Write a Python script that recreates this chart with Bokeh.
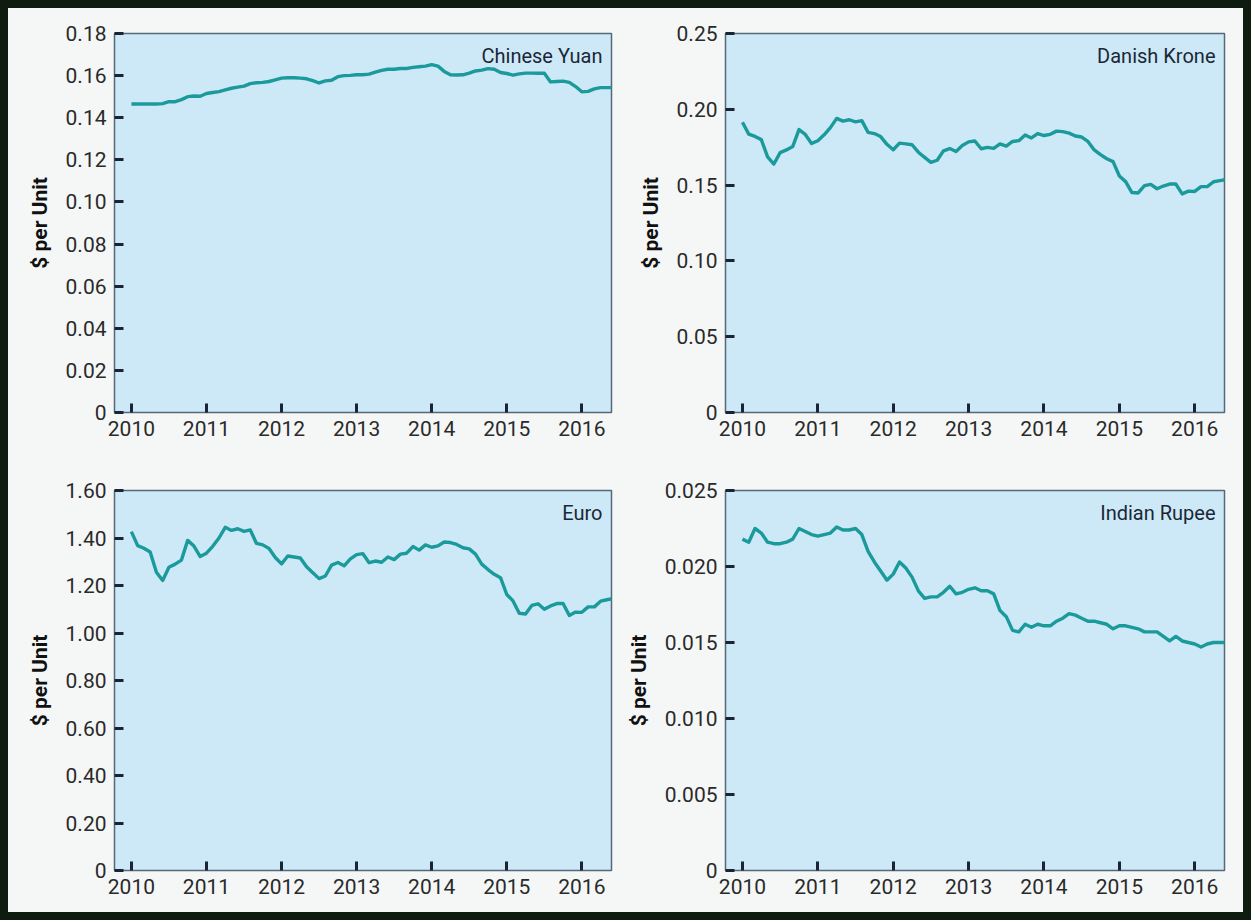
from bokeh.plotting import figure
from bokeh.layouts import column, row
from bokeh.models import FixedTicker, CustomJSTickFormatter, Label, Range1d
from bokeh.embed import file_html
from bokeh.resources import INLINE

# ---------------- data (monthly, Jan 2010 - Jun 2016) ----------------
years = [2010, 2011, 2012, 2013, 2014, 2015, 2016]
month_index = list(range(78))
months = [2010 + i / 12 for i in month_index]

cny = [
    0.1465, 0.1465, 0.1465, 0.1465, 0.1465, 0.1467, 0.1476, 0.1476, 0.1486, 0.1500, 0.1503, 0.1502,
    0.1515, 0.1520, 0.1524, 0.1532, 0.1540, 0.1545, 0.1550, 0.1562, 0.1566, 0.1568, 0.1572, 0.1580,
    0.1588, 0.1590, 0.1590, 0.1588, 0.1585, 0.1576, 0.1565, 0.1575, 0.1578, 0.1595, 0.1600, 0.1601,
    0.1604, 0.1604, 0.1607, 0.1616, 0.1625, 0.1630, 0.1630, 0.1634, 0.1634, 0.1639, 0.1642, 0.1645,
    0.1652, 0.1645, 0.1620, 0.1604, 0.1603, 0.1604, 0.1612, 0.1622, 0.1626, 0.1633, 0.1630, 0.1615,
    0.1610, 0.1602, 0.1608, 0.1612, 0.1612, 0.1611, 0.1611, 0.1570, 0.1572, 0.1574, 0.1568, 0.1548,
    0.1523, 0.1525, 0.1537, 0.1543, 0.1543, 0.1543,
]

dkk = [
    0.1915, 0.1836, 0.1821, 0.1800, 0.1686, 0.1639, 0.1714, 0.1732, 0.1754, 0.1866, 0.1834, 0.1774,
    0.1793, 0.1832, 0.1879, 0.1940, 0.1922, 0.1931, 0.1917, 0.1925, 0.1848, 0.1840, 0.1820, 0.1769,
    0.1733, 0.1777, 0.1772, 0.1766, 0.1717, 0.1683, 0.1650, 0.1664, 0.1726, 0.1741, 0.1722, 0.1761,
    0.1785, 0.1791, 0.1740, 0.1749, 0.1742, 0.1772, 0.1757, 0.1788, 0.1793, 0.1831, 0.1811, 0.1840,
    0.1827, 0.1835, 0.1856, 0.1853, 0.1843, 0.1824, 0.1817, 0.1788, 0.1732, 0.1701, 0.1674, 0.1655,
    0.1560, 0.1523, 0.1451, 0.1448, 0.1496, 0.1505, 0.1476, 0.1494, 0.1507, 0.1507, 0.1442, 0.1460,
    0.1458, 0.1490, 0.1490, 0.1522, 0.1530, 0.1537,
]

eur = [
    1.427, 1.368, 1.357, 1.341, 1.256, 1.221, 1.277, 1.290, 1.307, 1.390, 1.366, 1.322,
    1.336, 1.365, 1.400, 1.445, 1.432, 1.439, 1.428, 1.434, 1.377, 1.371, 1.356, 1.318,
    1.291, 1.324, 1.320, 1.316, 1.279, 1.254, 1.229, 1.240, 1.286, 1.297, 1.283, 1.312,
    1.330, 1.334, 1.296, 1.303, 1.298, 1.320, 1.309, 1.332, 1.336, 1.364, 1.349, 1.371,
    1.361, 1.367, 1.383, 1.381, 1.373, 1.359, 1.354, 1.332, 1.290, 1.267, 1.247, 1.233,
    1.162, 1.135, 1.083, 1.080, 1.116, 1.123, 1.100, 1.114, 1.124, 1.124, 1.074, 1.088,
    1.087, 1.110, 1.110, 1.134, 1.140, 1.145,
]

inr = [
    0.0218, 0.0216, 0.0225, 0.0222, 0.0216, 0.0215, 0.0215, 0.0216, 0.0218, 0.0225, 0.0223, 0.0221,
    0.0220, 0.0221, 0.0222, 0.0226, 0.0224, 0.0224, 0.0225, 0.0221, 0.0210, 0.0203, 0.0197, 0.0191,
    0.0195, 0.0203, 0.0199, 0.0193, 0.0184, 0.0179, 0.0180, 0.0180, 0.0183, 0.0187, 0.0182, 0.0183,
    0.0185, 0.0186, 0.0184, 0.0184, 0.0182, 0.0171, 0.0167, 0.0158, 0.0157, 0.0162, 0.0160, 0.0162,
    0.0161, 0.0161, 0.0164, 0.0166, 0.0169, 0.0168, 0.0166, 0.0164, 0.0164, 0.0163, 0.0162, 0.0159,
    0.0161, 0.0161, 0.0160, 0.0159, 0.0157, 0.0157, 0.0157, 0.0154, 0.0151, 0.0154, 0.0151, 0.0150,
    0.0149, 0.0147, 0.0149, 0.0150, 0.0150, 0.0150,
]

titles = ["Chinese Yuan", "Danish Krone", "Euro", "Indian Rupee"]
yticks_cny = [0, 0.02, 0.04, 0.06, 0.08, 0.10, 0.12, 0.14, 0.16, 0.18]
yticks_dkk = [0, 0.05, 0.10, 0.15, 0.20, 0.25]
yticks_eur = [0, 0.20, 0.40, 0.60, 0.80, 1.00, 1.20, 1.40, 1.60]
yticks_inr = [0, 0.005, 0.010, 0.015, 0.020, 0.025]
y_label = "$ per Unit"

# ---------------- styling ----------------
X_START, X_END = 2009.775, 2016.395
FONT = "Roboto"
BG = "#f5f7f7"
FILL = "#cde9f8"
LINE = "#1b9a9b"
TEXT = "#2a2a2a"


def panel(title, values, yticks, decimals, frame_w, frame_h, b_left, b_right, b_top, b_bottom):
    p = figure(
        output_backend="svg", toolbar_location=None,
        frame_width=frame_w, frame_height=frame_h,
        min_border_left=b_left, min_border_right=b_right,
        min_border_top=b_top, min_border_bottom=b_bottom,
        x_range=Range1d(X_START, X_END), y_range=Range1d(0, yticks[-1]),
        background_fill_color=FILL, border_fill_color=BG,
        outline_line_color="#56687a", outline_line_width=1.5,
    )
    p.grid.visible = False
    p.line(months, values, line_color=LINE, line_width=3.4, line_join="round")

    for ax in (p.xaxis[0], p.yaxis[0]):
        ax.axis_line_color = None
        ax.major_tick_in = 9
        ax.major_tick_out = 0
        ax.major_tick_line_width = 3
        ax.major_tick_line_color = "#1a2433"
        ax.minor_tick_line_color = None
        ax.major_label_text_font = FONT
        ax.major_label_text_font_size = "21px"
        ax.major_label_text_color = TEXT
        ax.major_label_standoff = 8

    p.xaxis.ticker = FixedTicker(ticks=years)
    p.yaxis.ticker = FixedTicker(ticks=yticks)
    p.yaxis.formatter = CustomJSTickFormatter(
        code="return tick == 0 ? '0' : tick.toFixed(%d);" % decimals)
    p.yaxis.axis_label = y_label
    p.yaxis.axis_label_text_font = FONT
    p.yaxis.axis_label_text_font_style = "bold"
    p.yaxis.axis_label_text_font_size = "21px"
    p.yaxis.axis_label_text_color = "#111111"
    p.yaxis.axis_label_standoff = 11

    p.add_layout(Label(
        x=X_END, y=yticks[-1], x_offset=-9, y_offset=-10, text=title,
        text_align="right", text_baseline="top", text_font=FONT,
        text_font_size="20px", text_color="#1b2736"))
    return p


p1 = panel(titles[0], cny, yticks_cny, 2, 497, 379, 106, 8, 25, 38)
p2 = panel(titles[1], dkk, yticks_dkk, 2, 499, 379, 106, 19, 25, 38)
p3 = panel(titles[2], eur, yticks_eur, 2, 497, 380, 106, 8, 40, 42)
p4 = panel(titles[3], inr, yticks_inr, 3, 499, 380, 106, 19, 40, 42)

layout = column(row(p1, p2, spacing=0), row(p3, p4, spacing=0), spacing=0,
                styles={"background-color": BG, "border": "8px solid #0d1c0e"})

open("out.html", "w").write(file_html(layout, INLINE))
